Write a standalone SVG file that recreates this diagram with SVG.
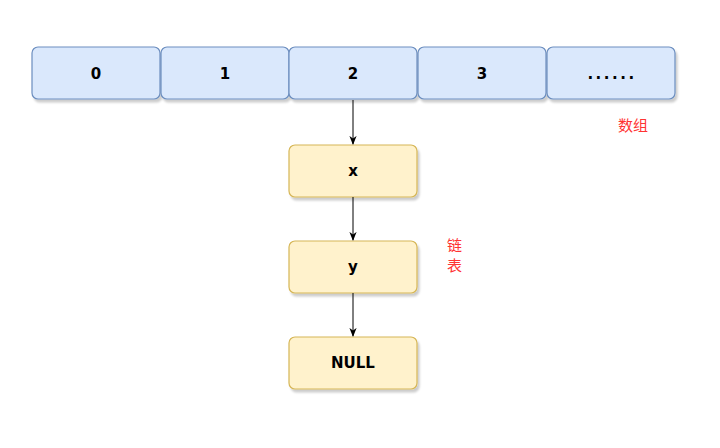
<svg xmlns="http://www.w3.org/2000/svg" width="720" height="448" viewBox="0 0 720 448">
<defs>
<filter id="sh" x="-10%" y="-10%" width="130%" height="140%">
<feDropShadow dx="2" dy="3" stdDeviation="1.2" flood-color="#000" flood-opacity="0.2"/>
</filter>
<marker id="arr" viewBox="0 0 10 10" refX="9" refY="5" markerWidth="9" markerHeight="9" orient="auto" markerUnits="userSpaceOnUse">
<path d="M0,1 L10,5 L0,9 L3,5 Z" fill="#000"/>
</marker>
</defs>
<style>
.arr rect{fill:#dae8fc;stroke:#6c8ebf;stroke-width:1.2;filter:url(#sh)}
.lst rect{fill:#fff2cc;stroke:#d6b656;stroke-width:1.2;filter:url(#sh)}
.t{font-family:"DejaVu Sans","Liberation Sans",sans-serif;font-size:15px;font-weight:600;fill:#000;text-anchor:middle;dominant-baseline:central}
.red{font-family:"Noto Sans CJK SC",sans-serif;font-size:15px;fill:#ff3333}
.edge{stroke:#000;stroke-width:1;fill:none;marker-end:url(#arr)}
</style>
<rect width="720" height="448" fill="#fff"/>
<g id="cell0" class="arr"><rect x="32" y="47" width="128" height="52" rx="6"/><text class="t" x="96" y="74">0</text></g>
<g id="cell1" class="arr"><rect x="161" y="47" width="128" height="52" rx="6"/><text class="t" x="225" y="74">1</text></g>
<g id="cell2" class="arr"><rect x="289" y="47" width="128" height="52" rx="6"/><text class="t" x="353" y="74">2</text></g>
<g id="cell3" class="arr"><rect x="418" y="47" width="128" height="52" rx="6"/><text class="t" x="482" y="74">3</text></g>
<g id="cell4" class="arr"><rect x="547" y="47" width="128" height="52" rx="6"/><text class="t" x="612" y="74" letter-spacing="2.5">......</text></g>
<g id="nodeX" class="lst"><rect x="289" y="145" width="128" height="52" rx="6"/><text class="t" x="353" y="171">x</text></g>
<g id="nodeY" class="lst"><rect x="289" y="241" width="128" height="52" rx="6"/><text class="t" x="353" y="267">y</text></g>
<g id="nodeNULL" class="lst"><rect x="289" y="337" width="128" height="52" rx="6"/><text class="t" x="353" y="363">NULL</text></g>
<g id="connectors">
<line class="edge" x1="353" y1="100" x2="353" y2="144"/>
<line class="edge" x1="353" y1="197" x2="353" y2="240"/>
<line class="edge" x1="353" y1="293" x2="353" y2="336"/>
</g>
<g id="labels">
<text class="red" x="618" y="131">数组</text>
<text class="red" x="447" y="251">链</text>
<text class="red" x="447" y="271">表</text>
</g>
</svg>
